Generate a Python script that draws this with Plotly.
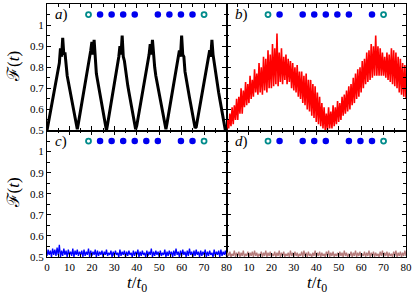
import plotly.graph_objects as go

# ---------------- data ----------------
T_STEP = 0.5
N_PTS = 161
times = [i * T_STEP for i in range(N_PTS)]

fid_a = [
    0.50, 0.529, 0.557, 0.586, 0.615, 0.643, 0.672, 0.701, 0.729, 0.758,
    0.787, 0.82, 0.89, 0.85, 0.94, 0.86, 0.87, 0.80, 0.76, 0.731,
    0.701, 0.672, 0.642, 0.613, 0.583, 0.553, 0.524, 0.506, 0.535, 0.565,
    0.595, 0.624, 0.654, 0.683, 0.713, 0.742, 0.772, 0.802, 0.84, 0.88,
    0.92, 0.86, 0.93, 0.81, 0.77, 0.74, 0.71, 0.68, 0.65, 0.62,
    0.59, 0.56, 0.53, 0.50, 0.53, 0.56, 0.59, 0.62, 0.65, 0.68,
    0.71, 0.74, 0.77, 0.81, 0.85, 0.90, 0.86, 0.95, 0.85, 0.83,
    0.78, 0.742, 0.713, 0.683, 0.654, 0.624, 0.595, 0.565, 0.535, 0.506,
    0.523, 0.552, 0.581, 0.610, 0.639, 0.668, 0.697, 0.727, 0.756, 0.785,
    0.82, 0.86, 0.91, 0.86, 0.93, 0.85, 0.80, 0.76, 0.731, 0.701,
    0.671, 0.642, 0.612, 0.583, 0.553, 0.524, 0.506, 0.535, 0.565, 0.595,
    0.624, 0.654, 0.683, 0.713, 0.742, 0.772, 0.801, 0.84, 0.88, 0.85,
    0.95, 0.86, 0.85, 0.78, 0.744, 0.715, 0.686, 0.657, 0.628, 0.599,
    0.570, 0.541, 0.512, 0.517, 0.546, 0.574, 0.603, 0.632, 0.660, 0.689,
    0.718, 0.747, 0.775, 0.804, 0.84, 0.88, 0.85, 0.93, 0.86, 0.82,
    0.78, 0.74, 0.71, 0.68, 0.65, 0.62, 0.59, 0.56, 0.53, 0.50,
    0.52,
]

fid_b = [
    0.50, 0.55, 0.51, 0.58, 0.52, 0.61, 0.53, 0.62, 0.55, 0.65,
    0.55, 0.66, 0.58, 0.70, 0.58, 0.69, 0.61, 0.73, 0.62, 0.72,
    0.63, 0.76, 0.65, 0.74, 0.66, 0.79, 0.68, 0.77, 0.67, 0.82,
    0.68, 0.80, 0.67, 0.85, 0.69, 0.84, 0.68, 0.88, 0.70, 0.86,
    0.70, 0.91, 0.71, 0.89, 0.72, 0.96, 0.71, 0.87, 0.73, 0.89,
    0.72, 0.85, 0.74, 0.86, 0.72, 0.84, 0.73, 0.83, 0.70, 0.82,
    0.69, 0.80, 0.68, 0.81, 0.66, 0.78, 0.65, 0.78, 0.63, 0.76,
    0.62, 0.77, 0.60, 0.74, 0.59, 0.74, 0.57, 0.72, 0.56, 0.71,
    0.54, 0.68, 0.53, 0.66, 0.52, 0.63, 0.51, 0.61, 0.50, 0.58,
    0.50, 0.61, 0.51, 0.59, 0.51, 0.62, 0.52, 0.61, 0.53, 0.64,
    0.54, 0.63, 0.55, 0.66, 0.57, 0.67, 0.58, 0.69, 0.59, 0.71,
    0.60, 0.72, 0.62, 0.75, 0.63, 0.77, 0.65, 0.79, 0.66, 0.80,
    0.68, 0.83, 0.70, 0.84, 0.72, 0.87, 0.73, 0.88, 0.74, 0.91,
    0.75, 0.90, 0.76, 0.95, 0.76, 0.90, 0.76, 0.89, 0.76, 0.87,
    0.76, 0.85, 0.75, 0.87, 0.74, 0.86, 0.73, 0.89, 0.72, 0.88,
    0.71, 0.87, 0.70, 0.85, 0.68, 0.84, 0.67, 0.82, 0.66, 0.81,
    0.65,
]

fid_c = [
    0.505, 0.535, 0.51, 0.53, 0.50, 0.54, 0.51, 0.535, 0.505, 0.545,
    0.51, 0.558, 0.50, 0.53, 0.505, 0.54, 0.51, 0.53, 0.50, 0.535,
    0.51, 0.525, 0.505, 0.54, 0.50, 0.53, 0.51, 0.535, 0.505, 0.525,
    0.51, 0.53, 0.50, 0.535, 0.505, 0.525, 0.51, 0.54, 0.50, 0.53,
    0.505, 0.525, 0.51, 0.535, 0.50, 0.53, 0.505, 0.525, 0.51, 0.53,
    0.50, 0.525, 0.51, 0.535, 0.505, 0.52, 0.51, 0.53, 0.50, 0.525,
    0.505, 0.53, 0.51, 0.52, 0.50, 0.535, 0.505, 0.525, 0.51, 0.53,
    0.50, 0.525, 0.505, 0.53, 0.51, 0.52, 0.50, 0.53, 0.505, 0.525,
    0.51, 0.535, 0.50, 0.525, 0.505, 0.53, 0.51, 0.52, 0.50, 0.53,
    0.505, 0.525, 0.51, 0.54, 0.50, 0.525, 0.505, 0.53, 0.51, 0.525,
    0.50, 0.53, 0.505, 0.52, 0.51, 0.535, 0.50, 0.525, 0.505, 0.53,
    0.51, 0.525, 0.50, 0.53, 0.505, 0.54, 0.51, 0.525, 0.50, 0.53,
    0.505, 0.535, 0.51, 0.525, 0.50, 0.53, 0.505, 0.54, 0.51, 0.525,
    0.50, 0.53, 0.505, 0.535, 0.51, 0.525, 0.50, 0.53, 0.505, 0.525,
    0.51, 0.535, 0.50, 0.525, 0.505, 0.53, 0.51, 0.52, 0.50, 0.535,
    0.505, 0.525, 0.51, 0.53, 0.50, 0.535, 0.505, 0.525, 0.51, 0.53,
    0.505,
]

fid_d = [
    0.50, 0.52, 0.505, 0.525, 0.50, 0.515, 0.505, 0.53, 0.50, 0.52,
    0.505, 0.525, 0.50, 0.52, 0.505, 0.53, 0.50, 0.515, 0.505, 0.525,
    0.50, 0.52, 0.505, 0.525, 0.50, 0.53, 0.505, 0.52, 0.50, 0.515,
    0.505, 0.525, 0.50, 0.52, 0.505, 0.53, 0.50, 0.52, 0.505, 0.525,
    0.50, 0.515, 0.505, 0.525, 0.50, 0.52, 0.505, 0.53, 0.50, 0.52,
    0.505, 0.525, 0.50, 0.515, 0.505, 0.52, 0.50, 0.53, 0.505, 0.52,
    0.50, 0.525, 0.505, 0.52, 0.50, 0.515, 0.505, 0.525, 0.50, 0.53,
    0.505, 0.52, 0.50, 0.525, 0.505, 0.515, 0.50, 0.52, 0.505, 0.53,
    0.50, 0.52, 0.505, 0.525, 0.50, 0.52, 0.505, 0.515, 0.50, 0.525,
    0.505, 0.53, 0.50, 0.52, 0.505, 0.525, 0.50, 0.515, 0.505, 0.52,
    0.50, 0.525, 0.505, 0.52, 0.50, 0.53, 0.505, 0.52, 0.50, 0.515,
    0.505, 0.525, 0.50, 0.52, 0.505, 0.53, 0.50, 0.52, 0.505, 0.525,
    0.50, 0.515, 0.505, 0.525, 0.50, 0.52, 0.505, 0.53, 0.50, 0.52,
    0.505, 0.525, 0.50, 0.52, 0.505, 0.515, 0.50, 0.525, 0.505, 0.53,
    0.50, 0.52, 0.505, 0.525, 0.50, 0.52, 0.505, 0.515, 0.50, 0.525,
    0.505, 0.53, 0.50, 0.52, 0.505, 0.525, 0.50, 0.52, 0.505, 0.53,
    0.505,
]

# chain sites drawn along the top of each panel
site_t = [18.5, 23.65, 28.8, 33.95, 39.1, 44.25, 49.4, 54.55, 59.7, 64.85, 70.0]
site_level = 1.05
open_sites = [0, 10]
filled_a = [1, 2, 3, 4, 6, 7, 8, 9]
filled_b = [1, 3, 4, 5, 6, 7, 9]
filled_c = [1, 2, 3, 4, 5, 6, 8, 9]
filled_d = [1, 3, 4, 5, 7, 8, 9]

panel_labels = ["a", "b", "c", "d"]
y_tick_vals = [0.5, 0.6, 0.7, 0.8, 0.9, 1.0]
y_tick_text = ["0.5", "0.6", "0.7", "0.8", "0.9", "1"]
y_minor_vals = [0.55, 0.65, 0.75, 0.85, 0.95, 1.05]
x_tick_vals = [0, 10, 20, 30, 40, 50, 60, 70, 80]
x_tick_left = ["0", "10", "20", "30", "40", "50", "60", "70", "80"]
x_tick_right = ["", "10", "20", "30", "40", "50", "60", "70", "80"]

# ---------------- figure ----------------
SERIF = "Liberation Serif, Times New Roman, DejaVu Serif, serif"
fig = go.Figure()

series = [fid_a, fid_b, fid_c, fid_d]
colors = ["#000000", "#ff0000", "#0000ff", "#b57a7a"]
widths = [3.0, 1.6, 1.3, 1.3]
filled = [filled_a, filled_b, filled_c, filled_d]
axes = [("x", "y"), ("x2", "y2"), ("x3", "y3"), ("x4", "y4")]

for i in range(4):
    xa, ya = axes[i]
    fig.add_trace(go.Scatter(x=times, y=series[i], mode="lines",
                             line=dict(color=colors[i], width=widths[i]),
                             xaxis=xa, yaxis=ya, showlegend=False, hoverinfo="skip"))
    fig.add_trace(go.Scatter(x=[site_t[k] for k in filled[i]],
                             y=[site_level] * len(filled[i]), mode="markers",
                             marker=dict(color="#0000ee", size=6.5, line=dict(width=0)),
                             xaxis=xa, yaxis=ya, showlegend=False, hoverinfo="skip"))
    fig.add_trace(go.Scatter(x=[site_t[k] for k in open_sites],
                             y=[site_level] * len(open_sites), mode="markers",
                             marker=dict(symbol="circle-open", color="#008b8b", size=5,
                                         line=dict(width=1.8, color="#008b8b")),
                             xaxis=xa, yaxis=ya, showlegend=False, hoverinfo="skip"))

common_x = dict(range=[0, 80], showline=True, linecolor="black", linewidth=1.3,
                mirror="ticks", ticks="inside", ticklen=4, tickwidth=1, tickcolor="black",
                showgrid=False, zeroline=False, tickmode="array", tickvals=x_tick_vals,
                ticklabeloverflow="allow",
                minor=dict(ticks="inside", ticklen=2.5, dtick=5, tick0=0, tickcolor="black", showgrid=False),
                tickfont=dict(family=SERIF, size=11, color="black"))
common_y = dict(range=[0.5, 1.1], showline=True, linecolor="black", linewidth=1.3,
                mirror="ticks", ticks="inside", ticklen=4, tickwidth=1, tickcolor="black",
                showgrid=False, zeroline=False, tickmode="array",
                tickvals=y_tick_vals, ticktext=y_tick_text,
                minor=dict(ticks="inside", ticklen=2.5, tickmode="array", tickvals=y_minor_vals,
                           tickcolor="black", showgrid=False),
                tickfont=dict(family=SERIF, size=11, color="black"))

fig.update_layout(
    width=415, height=297,
    margin=dict(l=47, r=6, t=3, b=40),
    paper_bgcolor="white", plot_bgcolor="white",
    xaxis=dict(common_x, domain=[0, 0.5], anchor="y", showticklabels=False),
    yaxis=dict(common_y, domain=[0.5, 1], anchor="x"),
    xaxis2=dict(common_x, domain=[0.5, 1], anchor="y2", showticklabels=False),
    yaxis2=dict(common_y, domain=[0.5, 1], anchor="x2", showticklabels=False),
    xaxis3=dict(common_x, domain=[0, 0.5], anchor="y3", ticktext=x_tick_left),
    yaxis3=dict(common_y, domain=[0, 0.5], anchor="x3"),
    xaxis4=dict(common_x, domain=[0.5, 1], anchor="y4", ticktext=x_tick_right),
    yaxis4=dict(common_y, domain=[0, 0.5], anchor="x4", showticklabels=False),
)

anns = []
for i in range(4):
    xa, ya = axes[i]
    anns.append(dict(text="<i>%s</i>)" % panel_labels[i], xref=xa + " domain", yref=ya + " domain",
                     x=0.035, y=0.915, xanchor="left", yanchor="middle", showarrow=False,
                     font=dict(family=SERIF, size=15, color="black")))
for yc in [0.752, 0.252]:
    anns.append(dict(text="ℱ(<i>t</i>)", xref="paper", yref="paper", x=-0.094, y=yc,
                     xanchor="center", yanchor="middle", textangle=-90, showarrow=False,
                     font=dict(family=SERIF, size=17, color="black")))
for xc in [0.25, 0.752]:
    anns.append(dict(text="<i>t</i>/<i>t</i><sub>0</sub>", xref="paper", yref="paper", x=xc, y=-0.108,
                     xanchor="center", yanchor="middle", showarrow=False,
                     font=dict(family=SERIF, size=17, color="black")))
fig.update_layout(annotations=anns)

fig.write_html("out.html", config={"displayModeBar": False},
               post_script="document.body.style.margin='0';")
